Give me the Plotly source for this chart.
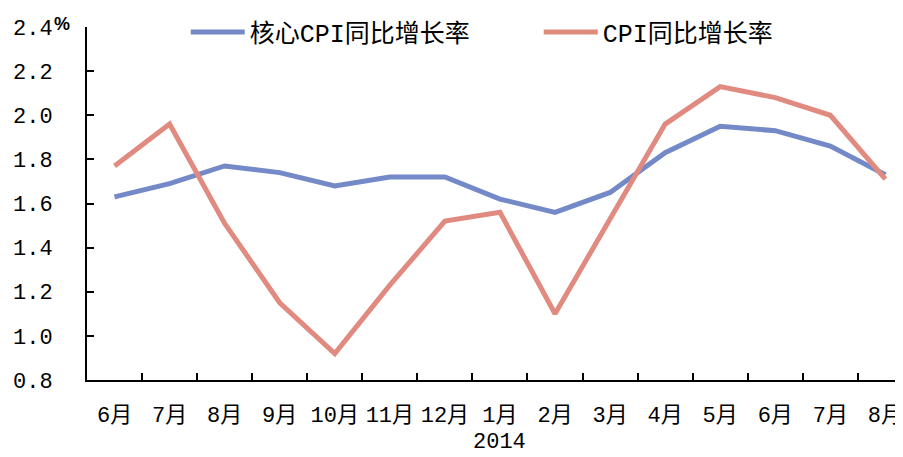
import plotly.graph_objects as go

MONTHS = ["6月", "7月", "8月", "9月", "10月", "11月", "12月", "1月", "2月", "3月", "4月", "5月", "6月", "7月", "8月"]
CATS = [f"{i}_{m}" for i, m in enumerate(MONTHS)]
CORE_CPI = [1.63, 1.69, 1.77, 1.74, 1.68, 1.72, 1.72, 1.62, 1.56, 1.65, 1.83, 1.95, 1.93, 1.86, 1.73]
CPI = [1.77, 1.96, 1.51, 1.15, 0.92, 1.23, 1.52, 1.56, 1.10, 1.53, 1.96, 2.13, 2.08, 2.00, 1.71]
Y_TICKS = [0.8, 1.0, 1.2, 1.4, 1.6, 1.8, 2.0, 2.2, 2.4]

FONT = "Liberation Mono, Noto Sans CJK SC"
BLUE = "#7489C7"
RED = "#E08A80"

fig = go.Figure()
fig.add_trace(go.Scatter(x=CATS, y=CORE_CPI, mode="lines", name="核心CPI同比增长率",
                         line=dict(color=BLUE, width=5)))
fig.add_trace(go.Scatter(x=CATS, y=CPI, mode="lines", name="CPI同比增长率",
                         line=dict(color=RED, width=5)))

fig.update_xaxes(
    type="category",
    range=[-0.5, 14.32],
    tickmode="array",
    tickvals=CATS,
    ticktext=MONTHS,
    tickangle=0,
    tickson="boundaries",
    ticks="inside",
    ticklen=7,
    tickwidth=2,
    tickcolor="black",
    showline=True,
    linecolor="black",
    linewidth=2,
    showgrid=False,
    ticklabelstandoff=14,
    tickfont=dict(family=FONT, size=22, color="black"),
)
fig.update_yaxes(
    range=[0.8, 2.4],
    tickvals=Y_TICKS,
    ticktext=[f"{v:.1f}" for v in Y_TICKS],
    ticks="inside",
    ticklen=7,
    tickwidth=2,
    tickcolor="black",
    showline=True,
    linecolor="black",
    linewidth=2,
    showgrid=False,
    zeroline=False,
    ticklabelstandoff=28,
    tickfont=dict(family=FONT, size=22, color="black"),
)

fig.add_annotation(text="<b>%</b>", xref="x", x=-0.5, yref="paper", y=1.0,
                   xshift=-25, yshift=15, showarrow=False,
                   font=dict(family="Liberation Sans", size=18, color="black"))
fig.add_annotation(text="2014", xref="x", x=CATS[7], yref="paper", y=0,
                   yshift=-77, showarrow=False,
                   font=dict(family=FONT, size=22, color="black"))

# page has an 8px body margin, so the figure is a bit smaller than the window
fig.update_layout(
    width=895,
    height=449,
    margin=dict(l=79, r=0, t=19, b=77, autoexpand=False),
    plot_bgcolor="white",
    paper_bgcolor="white",
    showlegend=True,
    legend=dict(
        orientation="h",
        x=0.121, y=0.985,
        xanchor="left", yanchor="middle",
        font=dict(family=FONT, size=25, color="black"),
        bgcolor="rgba(0,0,0,0)",
        itemwidth=54,
        entrywidth=284,
    ),
)

fig.write_html("out.html")
